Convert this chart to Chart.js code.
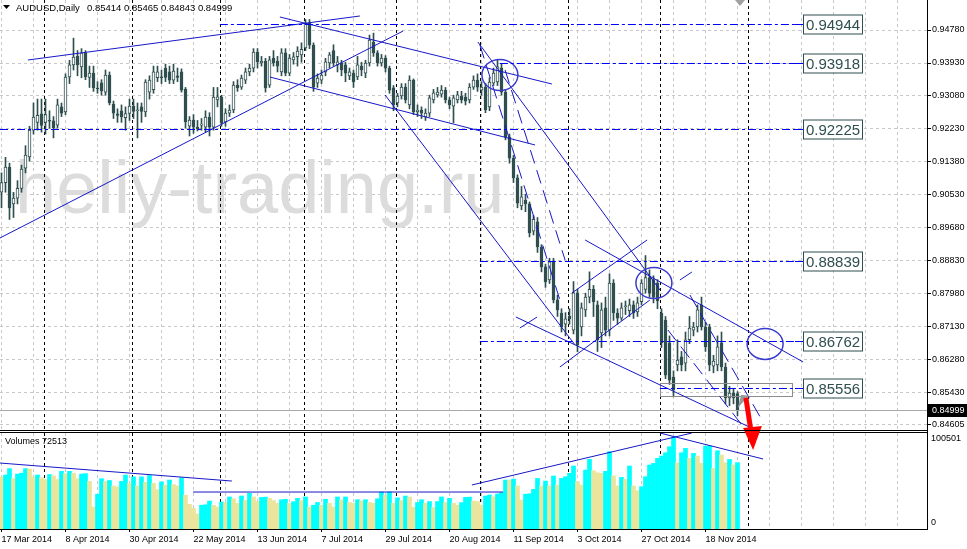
<!DOCTYPE html>
<html>
<head>
<meta charset="utf-8">
<title>AUDUSD Daily</title>
<script src="https://cdn.jsdelivr.net/npm/chart.js@4.4.1/dist/chart.umd.min.js"></script>
<style>
  html, body { margin: 0; padding: 0; background: #fff; }
  #wrap { position: relative; width: 967px; height: 549px; overflow: hidden; }
  #priceChart { position: absolute; left: 0; top: 0; z-index: 2; }
  #volumeChart { position: absolute; left: 0; top: 431px; z-index: 1; }
</style>
</head>
<body>
<div id="wrap">
  <canvas id="volumeChart" width="967" height="118"></canvas>
  <canvas id="priceChart" width="967" height="460"></canvas>
</div>
<script>
// --- Data: daily AUDUSD candles, bar 0 = 17 Mar 2014 ---
const opens = [0.9060,0.9085,0.9125,0.9030,0.9045,0.9070,0.9122,0.9151,0.9220,0.9240,
  0.9262,0.9240,0.9245,0.9244,0.9233,0.9280,0.9267,0.9357,0.9388,0.9410,
  0.9383,0.9419,0.9356,0.9367,0.9328,0.9342,0.9318,0.9362,0.9287,0.9262,
  0.9270,0.9252,0.9263,0.9282,0.9270,0.9280,0.9267,0.9318,0.9324,0.9355,
  0.9357,0.9380,0.9370,0.9349,0.9360,0.9370,0.9326,0.9230,0.9246,0.9228,
  0.9233,0.9228,0.9254,0.9228,0.9298,0.9305,0.9241,0.9264,0.9272,0.9336,
  0.9331,0.9349,0.9370,0.9380,0.9421,0.9393,0.9398,0.9336,0.9406,0.9398,
  0.9370,0.9419,0.9367,0.9401,0.9409,0.9414,0.9432,0.9496,0.9439,0.9341,
  0.9349,0.9370,0.9393,0.9425,0.9388,0.9393,0.9388,0.9360,0.9367,0.9357,
  0.9385,0.9367,0.9393,0.9447,0.9419,0.9393,0.9406,0.9380,0.9329,0.9290,
  0.9308,0.9331,0.9285,0.9349,0.9267,0.9272,0.9254,0.9264,0.9298,0.9311,
  0.9313,0.9323,0.9298,0.9282,0.9298,0.9308,0.9305,0.9298,0.9331,0.9349,
  0.9323,0.9331,0.9280,0.9341,0.9344,0.9380,0.9318,0.9202,0.9148,0.9097,
  0.9025,0.9040,0.9030,0.8960,0.8984,0.8919,0.8868,0.8834,0.8881,0.8783,
  0.8749,0.8720,0.8741,0.8705,0.8801,0.8713,0.8757,0.8790,0.8810,0.8770,
  0.8698,0.8762,0.8705,0.8826,0.8749,0.8736,0.8765,0.8755,0.8770,0.8752,
  0.8778,0.8810,0.8840,0.8835,0.8826,0.8749,0.8731,0.8672,0.8584,0.8615,
  0.8636,0.8620,0.8680,0.8705,0.8713,0.8770,0.8713,0.8713,0.8612,0.8615,
  0.8672,0.8610,0.8530,0.8543,0.85414]
const highs = [0.9110,0.9150,0.9135,0.9060,0.9090,0.9130,0.9180,0.9230,0.9290,0.9300,
  0.9300,0.9300,0.9270,0.9255,0.9300,0.9290,0.9365,0.9400,0.9457,0.9425,
  0.9430,0.9425,0.9385,0.9385,0.9345,0.9350,0.9375,0.9370,0.9295,0.9275,
  0.9285,0.9280,0.9300,0.9300,0.9290,0.9290,0.9350,0.9360,0.9385,0.9385,
  0.9375,0.9390,0.9385,0.9390,0.9380,0.9378,0.9330,0.9255,0.9260,0.9245,
  0.9250,0.9270,0.9265,0.9330,0.9330,0.9310,0.9275,0.9285,0.9345,0.9350,
  0.9362,0.9380,0.9390,0.9430,0.9430,0.9410,0.9405,0.9410,0.9425,0.9410,
  0.9430,0.9430,0.9415,0.9420,0.9435,0.9445,0.9505,0.9505,0.9445,0.9365,
  0.9375,0.9405,0.9420,0.9440,0.9410,0.9400,0.9395,0.9380,0.9375,0.9410,
  0.9395,0.9400,0.9465,0.9470,0.9425,0.9415,0.9412,0.9385,0.9335,0.9315,
  0.9340,0.9340,0.9360,0.9352,0.9285,0.9280,0.9275,0.9310,0.9325,0.9330,
  0.9335,0.9330,0.9305,0.9310,0.9320,0.9320,0.9315,0.9340,0.9360,0.9365,
  0.9345,0.9340,0.9355,0.9380,0.9401,0.9390,0.9325,0.9210,0.9155,0.9105,
  0.9075,0.9055,0.9035,0.9000,0.8995,0.8925,0.8875,0.8890,0.8890,0.8795,
  0.8760,0.8750,0.8760,0.8830,0.8810,0.8775,0.8800,0.8855,0.8820,0.8780,
  0.8775,0.8790,0.8850,0.8835,0.8760,0.8775,0.8780,0.8785,0.8780,0.8790,
  0.8835,0.8897,0.8860,0.8845,0.8835,0.8760,0.8740,0.8690,0.8600,0.8680,
  0.8650,0.8700,0.8740,0.8725,0.8770,0.8790,0.8725,0.8720,0.8640,0.8690,
  0.8700,0.8620,0.8560,0.8555,0.85465]
const lows = [0.9020,0.9060,0.8990,0.8995,0.9030,0.9060,0.9110,0.9140,0.9210,0.9220,
  0.9215,0.9210,0.9225,0.9200,0.9225,0.9255,0.9260,0.9340,0.9375,0.9360,
  0.9355,0.9350,0.9330,0.9320,0.9315,0.9310,0.9310,0.9285,0.9250,0.9240,
  0.9240,0.9220,0.9245,0.9250,0.9200,0.9240,0.9255,0.9300,0.9315,0.9345,
  0.9340,0.9345,0.9340,0.9340,0.9345,0.9318,0.9225,0.9205,0.9212,0.9218,
  0.9220,0.9215,0.9205,0.9220,0.9280,0.9230,0.9230,0.9255,0.9265,0.9320,
  0.9325,0.9340,0.9360,0.9370,0.9380,0.9385,0.9318,0.9330,0.9385,0.9370,
  0.9360,0.9360,0.9360,0.9390,0.9385,0.9395,0.9425,0.9430,0.9320,0.9330,
  0.9340,0.9360,0.9380,0.9385,0.9370,0.9360,0.9345,0.9350,0.9330,0.9350,
  0.9360,0.9355,0.9385,0.9410,0.9385,0.9385,0.9370,0.9315,0.9270,0.9280,
  0.9300,0.9290,0.9275,0.9260,0.9255,0.9250,0.9245,0.9255,0.9290,0.9305,
  0.9305,0.9290,0.9275,0.9239,0.9290,0.9290,0.9285,0.9290,0.9325,0.9320,
  0.9310,0.9265,0.9270,0.9335,0.9335,0.9310,0.9195,0.9135,0.9085,0.9020,
  0.9015,0.9010,0.8945,0.8950,0.8905,0.8855,0.8815,0.8825,0.8775,0.8740,
  0.8700,0.8690,0.8720,0.8695,0.8649,0.8690,0.8740,0.8775,0.8740,0.8650,
  0.8660,0.8690,0.8690,0.8730,0.8720,0.8730,0.8745,0.8740,0.8735,0.8740,
  0.8770,0.8800,0.8790,0.8775,0.8760,0.8660,0.8580,0.8565,0.8533,0.8600,
  0.8600,0.8600,0.8670,0.8690,0.8700,0.8705,0.8650,0.8600,0.8595,0.8600,
  0.8600,0.8515,0.8510,0.8515,0.84843]
const closes = [0.9085,0.9125,0.9020,0.9045,0.9070,0.9120,0.9156,0.9220,0.9254,0.9258,
  0.9232,0.9260,0.9243,0.9226,0.9285,0.9264,0.9357,0.9388,0.9408,0.9388,
  0.9419,0.9357,0.9367,0.9329,0.9326,0.9321,0.9362,0.9290,0.9264,0.9258,
  0.9254,0.9263,0.9282,0.9268,0.9272,0.9268,0.9344,0.9349,0.9370,0.9370,
  0.9355,0.9356,0.9349,0.9372,0.9356,0.9323,0.9241,0.9246,0.9228,0.9223,
  0.9234,0.9254,0.9228,0.9305,0.9306,0.9238,0.9264,0.9272,0.9336,0.9329,
  0.9354,0.9370,0.9380,0.9421,0.9396,0.9398,0.9329,0.9401,0.9393,0.9385,
  0.9419,0.9367,0.9406,0.9409,0.9424,0.9428,0.9496,0.9439,0.9331,0.9354,
  0.9362,0.9396,0.9414,0.9393,0.9396,0.9375,0.9367,0.9370,0.9344,0.9388,
  0.9375,0.9393,0.9452,0.9419,0.9393,0.9406,0.9380,0.9323,0.9285,0.9308,
  0.9331,0.9298,0.9349,0.9267,0.9272,0.9264,0.9264,0.9303,0.9316,0.9318,
  0.9323,0.9298,0.9285,0.9303,0.9311,0.9298,0.9295,0.9331,0.9349,0.9331,
  0.9331,0.9272,0.9344,0.9367,0.9383,0.9318,0.9202,0.9148,0.9097,0.9032,
  0.9048,0.9030,0.8955,0.8990,0.8919,0.8868,0.8829,0.8881,0.8783,0.8757,
  0.8713,0.8734,0.8734,0.8801,0.8667,0.8762,0.8790,0.8810,0.8778,0.8680,
  0.8757,0.8705,0.8826,0.8749,0.8736,0.8762,0.8767,0.8770,0.8749,0.8775,
  0.8826,0.8840,0.8800,0.8790,0.8780,0.8672,0.8589,0.8576,0.8551,0.8628,
  0.8615,0.8680,0.8710,0.8713,0.8757,0.8713,0.8662,0.8615,0.8625,0.8662,
  0.8610,0.8530,0.8543,0.8530,0.84999]
const volumes = [57000,59000,66000,55000,60000,61000,66000,65500,57000,59000,
  56000,54000,59500,58000,54000,63000,60500,63000,61000,55000,
  60000,60500,52000,24000,38000,55000,52000,53000,47000,46000,
  52000,59000,50000,57000,47000,57000,51000,58500,50000,43000,
  51500,48000,53500,48500,47000,56000,37000,27000,22600,16500,
  26000,26500,30500,26000,24000,29500,29000,35000,33000,28000,
  36000,31500,39000,35000,30000,34500,34800,33500,31000,28000,
  32000,32500,28000,29800,33500,31000,35000,24000,26000,29000,
  26000,32500,28000,24000,35000,31700,35000,29000,28000,32000,
  30500,32000,29000,28000,33000,40500,37000,40600,28000,34000,
  31000,36000,35000,23700,29000,32000,28000,30000,23500,30000,
  35000,29000,33500,28000,26000,28800,34600,34800,30600,30000,
  26200,36000,37100,35300,38200,39700,53500,53000,54600,47000,
  31700,38000,38500,43300,55300,47000,52400,47000,57900,48000,
  55300,57100,60800,68800,51700,48000,64400,76100,63700,61500,
  60800,63000,84400,58000,47000,56400,54200,68800,47000,41900,
  46200,57100,69900,71700,77200,79700,83300,89900,100501,72400,
  83300,88100,77200,82600,79700,71700,90600,90800,66200,85500,
  80800,72400,76000,70000,72513]

// axis ticks and labels
const priceTicks = [0.94780, 0.93930, 0.93080, 0.92230, 0.91380, 0.90530, 0.89680,
  0.88830, 0.87980, 0.87130, 0.86280, 0.85430, 0.84605]
const dateLabels = ['17 Mar 2014', '8 Apr 2014', '30 Apr 2014', '22 May 2014', '13 Jun 2014',
  '7 Jul 2014', '29 Jul 2014', '20 Aug 2014', '11 Sep 2014', '3 Oct 2014', '27 Oct 2014', '18 Nov 2014']
const monthStarts = [11, 33, 55, 76, 99, 120, 142, 165, 187]
const gridBars = []
for (let b = 0; b <= 224; b += 8) gridBars.push(b)

// horizontal levels (price, first bar)
const levelPrices = [0.94944, 0.93918, 0.92225, 0.88839, 0.86762, 0.85556]
const levelFrom = [54.6, 124.6, -0.4, 119.6, 119.6, 164.6]
const levelLabelBar = 200.4
const bidPrice = 0.84999

// trend lines [bar1, price1, bar2, price2]
const trendLines = [
  [6.6, 0.94007, 89.6, 0.95141],
  [-0.4, 0.89422, 100.4, 0.94754],
  [67.1, 0.93569, 133.4, 0.91818],
  [69.6, 0.95115, 137.6, 0.93389],
  [95.9, 0.93106, 143.4, 0.86666],
  [119.1, 0.94471, 164.6, 0.88083],
  [128.6, 0.87387, 189.6, 0.84425],
  [145.9, 0.89371, 200.4, 0.86228],
  [139.6, 0.86099, 162.1, 0.87825],
  [142.6, 0.88005, 161.4, 0.89371],
  [129.6, 0.87104, 133.9, 0.87387],
  [169.6, 0.88340, 172.6, 0.88546]
]
// steep dashed channel lines
const dashedLines = [
  [119.6, 0.94394, 139.6, 0.87825],
  [125.9, 0.93750, 140.9, 0.88855],
  [172.1, 0.87954, 190.1, 0.84734],
  [166.6, 0.87052, 185.1, 0.84605]
]
const circles = [[124.6, 0.93621], [163.1, 0.88263], [190.9, 0.86692]]
const volumeLines = [
  [-0.4, 72100, 57.6, 52400],
  [47.9, 40400, 125.4, 40400],
  [117.6, 48100, 172.6, 104900],
  [164.6, 104900, 190.4, 76500]
]

const candleColor = '#2f4f4f'
const bars = opens.map((_, i) => i)
const bodyColors = bars.map((i) => (closes[i] >= opens[i] ? '#ffffff' : candleColor))
const volColors = bars.map((i) => (i > 0 && volumes[i] > volumes[i - 1] ? '#00ffff' : '#ebe49c'))

Chart.defaults.font.family = '"Liberation Sans", Arial, sans-serif'

function seg(ctx, x1, y1, x2, y2) {
  ctx.beginPath()
  ctx.moveTo(x1, y1)
  ctx.lineTo(x2, y2)
  ctx.stroke()
}

function fixWidth(w) {
  return (s) => { s.width = w; s.paddingTop = 0; s.paddingBottom = 0 }
}
function fixHeight(h) {
  return (s) => { s.height = h; s.paddingLeft = 0; s.paddingRight = 0 }
}

// --- Price panel overlay: separators, watermark, objects ---
const priceOverlay = {
  id: 'priceOverlay',
  beforeDatasetsDraw(chart) {
    const { ctx, chartArea: a, scales: { x } } = chart
    ctx.save()
    ctx.font = '74px "Liberation Sans", Arial, sans-serif'
    ctx.fillStyle = '#dcdcdc'
    ctx.fillText('heliy-trading.ru', 15, 213)
    ctx.strokeStyle = '#000'
    ctx.lineWidth = 1
    ctx.setLineDash([3, 3])
    monthStarts.forEach((b) => {
      const px = Math.round(x.getPixelForValue(b) - 1.5) + 0.5
      seg(ctx, px, a.top, px, a.bottom)
    })
    ctx.restore()
  },
  afterDatasetsDraw(chart) {
    const { ctx, chartArea: a, scales: { x, y } } = chart
    const line = ([b1, p1, b2, p2]) =>
      seg(ctx, x.getPixelForValue(b1), y.getPixelForValue(p1), x.getPixelForValue(b2), y.getPixelForValue(p2))
    ctx.save()
    ctx.beginPath()
    ctx.rect(a.left, a.top, a.right - a.left, a.bottom - a.top)
    ctx.clip()

    // bid line
    ctx.strokeStyle = '#a9a9a9'
    ctx.lineWidth = 1
    const by = Math.round(y.getPixelForValue(bidPrice)) + 0.5
    seg(ctx, a.left, by, a.right, by)

    // rectangle around the last level
    ctx.strokeStyle = '#8c8c8c'
    const rx1 = x.getPixelForValue(164.6), rx2 = x.getPixelForValue(197.6)
    const ry1 = y.getPixelForValue(0.85687), ry2 = y.getPixelForValue(0.85352)
    ctx.strokeRect(Math.round(rx1) + 0.5, Math.round(ry1) + 0.5, Math.round(rx2 - rx1), Math.round(ry2 - ry1))

    // trend lines
    ctx.strokeStyle = '#1717c8'
    trendLines.forEach(line)
    ctx.setLineDash([14, 7])
    dashedLines.forEach(line)
    ctx.setLineDash([])

    // ellipses
    ctx.strokeStyle = '#3a3ad0'
    ctx.lineWidth = 1.5
    circles.forEach(([b, p]) => {
      ctx.beginPath()
      ctx.ellipse(x.getPixelForValue(b), y.getPixelForValue(p), 18, 15.5, 0, 0, Math.PI * 2)
      ctx.stroke()
    })

    // horizontal levels with labels
    const lx = Math.round(x.getPixelForValue(levelLabelBar))
    ctx.lineWidth = 1
    levelPrices.forEach((p, k) => {
      const ly = Math.round(y.getPixelForValue(p)) + 0.5
      const sx = Math.max(a.left, x.getPixelForValue(levelFrom[k]))
      ctx.strokeStyle = '#0000ff'
      ctx.setLineDash([8, 3, 3, 3])
      seg(ctx, sx, ly, lx - 8, ly)
      ctx.setLineDash([])
      seg(ctx, lx - 8, ly, lx, ly)
      ctx.fillStyle = '#ffffff'
      ctx.fillRect(lx, ly - 10, 60, 19)
      ctx.strokeStyle = candleColor
      ctx.strokeRect(lx + 0.5, ly - 9.5, 59, 19)
      ctx.fillStyle = candleColor
      ctx.font = '15px "Liberation Sans", Arial, sans-serif'
      ctx.textAlign = 'center'
      ctx.textBaseline = 'middle'
      ctx.fillText(p.toFixed(5), lx + 30, ly + 1)
    })
    ctx.restore()

    // arrows (may leave the panel)
    ctx.save()
    ctx.fillStyle = '#9a9a9a'
    ctx.beginPath()
    ctx.moveTo(x.getPixelForValue(184.1), y.getPixelForValue(0.85047))
    ctx.lineTo(x.getPixelForValue(184.9), y.getPixelForValue(0.85382))
    ctx.lineTo(x.getPixelForValue(186.9), y.getPixelForValue(0.85356))
    ctx.closePath()
    ctx.fill()
    ctx.strokeStyle = '#ff0000'
    ctx.lineWidth = 5
    seg(ctx, x.getPixelForValue(186.1), y.getPixelForValue(0.85301), x.getPixelForValue(187.4), y.getPixelForValue(0.84425))
    ctx.fillStyle = '#ff0000'
    ctx.beginPath()
    ctx.moveTo(x.getPixelForValue(185.4), y.getPixelForValue(0.84528))
    ctx.lineTo(x.getPixelForValue(190.1), y.getPixelForValue(0.84579))
    ctx.lineTo(x.getPixelForValue(187.9), y.getPixelForValue(0.83961))
    ctx.closePath()
    ctx.fill()
    ctx.restore()
  },
  afterDraw(chart) {
    const { ctx, chartArea: a, scales: { y } } = chart
    ctx.save()
    ctx.strokeStyle = '#000'
    ctx.lineWidth = 1
    seg(ctx, a.left, a.bottom + 0.5, a.right + 1, a.bottom + 0.5)
    seg(ctx, a.right + 0.5, a.bottom, a.right + 0.5, a.bottom + 3)
    // bid price tag
    const by = Math.round(y.getPixelForValue(bidPrice))
    ctx.fillStyle = '#000'
    ctx.fillRect(a.right + 1, by - 6, 40, 13)
    ctx.fillStyle = '#fff'
    ctx.font = '9px "Liberation Sans", Arial, sans-serif'
    ctx.textBaseline = 'middle'
    ctx.fillText(bidPrice.toFixed(5), a.right + 5, by + 0.5)
    // header
    ctx.fillStyle = '#000'
    ctx.beginPath()
    ctx.moveTo(3, 5); ctx.lineTo(10, 5); ctx.lineTo(6.5, 9)
    ctx.closePath()
    ctx.fill()
    ctx.font = '9.5px "Liberation Sans", Arial, sans-serif'
    ctx.fillText('AUDUSD,Daily', 16, 8)
    const last = opens.length - 1
    ctx.fillText([opens[last], highs[last], lows[last], closes[last]].map((v) => v.toFixed(5)).join(' '), 87, 8)
    // chart shift marker
    ctx.fillStyle = '#a0a0a0'
    ctx.beginPath()
    ctx.moveTo(735, 0); ctx.lineTo(745, 0); ctx.lineTo(740, 6)
    ctx.closePath()
    ctx.fill()
    ctx.restore()
  }
}

// --- Volume panel overlay ---
const volumeOverlay = {
  id: 'volumeOverlay',
  beforeDatasetsDraw(chart) {
    const { ctx, chartArea: a, scales: { x } } = chart
    ctx.save()
    ctx.strokeStyle = '#000'
    ctx.setLineDash([3, 3])
    monthStarts.forEach((b) => {
      const px = Math.round(x.getPixelForValue(b) - 1.5) + 0.5
      seg(ctx, px, a.top, px, a.bottom)
    })
    ctx.restore()
  },
  afterDatasetsDraw(chart) {
    const { ctx, chartArea: a, scales: { x, y } } = chart
    ctx.save()
    ctx.strokeStyle = '#1717c8'
    ctx.lineWidth = 1
    volumeLines.forEach(([b1, v1, b2, v2]) => {
      seg(ctx, x.getPixelForValue(b1), y.getPixelForValue(v1), x.getPixelForValue(b2), y.getPixelForValue(v2))
    })
    ctx.strokeStyle = '#000'
    seg(ctx, a.left, 1.5, a.right + 1, 1.5)
    seg(ctx, a.right + 0.5, 0, a.right + 0.5, a.top)
    ctx.fillStyle = '#000'
    ctx.font = '9px "Liberation Sans", Arial, sans-serif'
    ctx.textBaseline = 'middle'
    ctx.fillText('Volumes ' + volumes[volumes.length - 1], 5, 11)
    ctx.fillText(String(Math.max(...volumes)), a.right + 4, y.getPixelForValue(Math.max(...volumes)) + 1)
    ctx.fillText('0', a.right + 4, a.bottom - 6)
    ctx.restore()
  }
}

// --- Price chart ---
new Chart(document.getElementById('priceChart'), {
  type: 'bar',
  data: {
    datasets: [
      {
        data: bars.map((i) => ({ x: i, y: [opens[i], closes[i]] })),
        backgroundColor: bodyColors,
        borderColor: candleColor,
        borderWidth: 1,
        borderSkipped: false,
        barThickness: 3,
        minBarLength: 1,
        grouped: false,
        order: 0
      },
      {
        data: bars.map((i) => ({ x: i, y: [lows[i], highs[i]] })),
        backgroundColor: candleColor,
        barThickness: 1,
        grouped: false,
        order: 1
      }
    ]
  },
  options: {
    responsive: false,
    devicePixelRatio: 1,
    animation: false,
    events: [],
    layout: { autoPadding: false, padding: { top: 0, left: 0, right: 0, bottom: 30 } },
    plugins: { legend: { display: false }, tooltip: { enabled: false } },
    scales: {
      x: {
        type: 'linear',
        offset: false,
        min: -0.375,
        max: 231.375,
        afterBuildTicks: (s) => { s.ticks = gridBars.map((v) => ({ value: v })) },
        afterFit: fixHeight(0),
        ticks: { display: false },
        grid: { color: '#c8c8c8', drawTicks: false, offset: false },
        border: { display: false, dash: [3, 3] }
      },
      y: {
        type: 'linear',
        position: 'right',
        min: 0.84476,
        max: 0.95553,
        afterBuildTicks: (s) => { s.ticks = priceTicks.map((v) => ({ value: v })) },
        afterFit: fixWidth(40),
        ticks: {
          color: '#000',
          font: { size: 9 },
          padding: 1,
          autoSkip: false,
          callback: (v) => Number(v).toFixed(5)
        },
        grid: { color: '#c8c8c8', drawTicks: true, tickLength: 4, tickColor: '#000', tickBorderDash: [] },
        border: { display: true, color: '#000', dash: [3, 3] }
      }
    }
  },
  plugins: [priceOverlay]
})

// --- Volume chart ---
new Chart(document.getElementById('volumeChart'), {
  type: 'bar',
  data: {
    datasets: [
      {
        data: bars.map((i) => ({ x: i, y: volumes[i] })),
        backgroundColor: volColors,
        barThickness: 4,
        grouped: false
      }
    ]
  },
  options: {
    responsive: false,
    devicePixelRatio: 1,
    animation: false,
    events: [],
    layout: { autoPadding: false, padding: { top: 2, left: 0, right: 0, bottom: 0 } },
    plugins: { legend: { display: false }, tooltip: { enabled: false } },
    scales: {
      x: {
        type: 'linear',
        offset: false,
        min: -0.375,
        max: 231.375,
        afterBuildTicks: (s) => { s.ticks = gridBars.map((v) => ({ value: v })) },
        afterFit: fixHeight(20),
        ticks: {
          color: '#000',
          font: { size: 9 },
          align: 'start',
          padding: 2,
          autoSkip: false,
          maxRotation: 0,
          callback: (v) => (v % 16 === 0 && v / 16 < dateLabels.length ? dateLabels[v / 16] : '')
        },
        grid: {
          color: '#c8c8c8',
          offset: false,
          drawTicks: true,
          tickLength: 3,
          tickBorderDash: [],
          tickColor: (c) => (c.tick && c.tick.value % 16 === 0 && c.tick.value / 16 < dateLabels.length ? '#000' : 'rgba(0,0,0,0)')
        },
        border: { display: true, color: '#000', dash: [3, 3] }
      },
      y: {
        type: 'linear',
        position: 'right',
        min: 0,
        max: 104900,
        afterFit: fixWidth(40),
        ticks: { display: false },
        grid: { display: false },
        border: { display: true, color: '#000' }
      }
    }
  },
  plugins: [volumeOverlay]
})
</script>
</body>
</html>
